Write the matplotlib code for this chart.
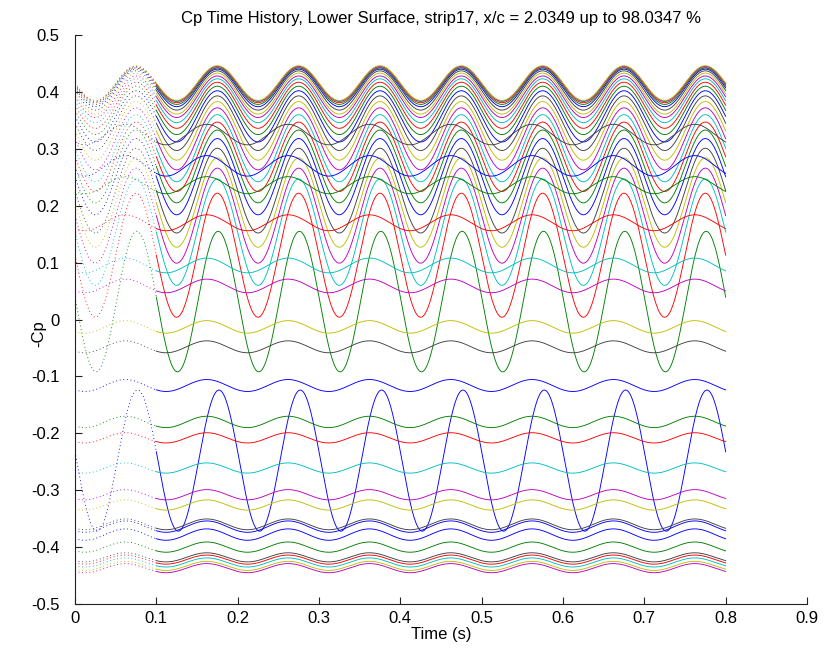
import numpy as np
import matplotlib
matplotlib.use("Agg")
import matplotlib.pyplot as plt

plt.rcParams['font.family'] = ['Liberation Sans', 'DejaVu Sans']

# MATLAB default colour order
matlab_colors = {'b': (0, 0, 1), 'g': (0, 0.5, 0), 'r': (1, 0, 0),
                 'c': (0, 0.75, 0.75), 'm': (0.75, 0, 0.75),
                 'y': (0.75, 0.75, 0), 'k': (0.25, 0.25, 0.25)}

period = 0.1          # s, oscillation period read from the peaks
t_end = 0.8
t_transient = 0.1

# Station 1 (large-amplitude blue)
big_color = ['b']
big_max = [-0.124]
big_min = [-0.372]
big_peak = [0.077]

# Stations with peaks at 0.075 s (bottom -> top)
colors_A = ['g', 'r', 'c', 'm', 'y', 'k', 'b', 'g', 'r', 'c', 'm', 'y', 'k',
            'b', 'g', 'r', 'c', 'm', 'y', 'k', 'b', 'g', 'r', 'c', 'm', 'y']
max_A = [0.155, 0.222, 0.247, 0.266, 0.284, 0.301, 0.318, 0.333, 0.347,
         0.360, 0.372, 0.383, 0.393, 0.402, 0.410, 0.417, 0.423, 0.428,
         0.433, 0.437, 0.440, 0.442, 0.443, 0.444, 0.445, 0.446]
min_A = [-0.092, 0.004, 0.060, 0.099, 0.127, 0.152, 0.184, 0.205, 0.225,
         0.242, 0.263, 0.280, 0.297, 0.312, 0.325, 0.336, 0.346, 0.355,
         0.361, 0.368, 0.374, 0.378, 0.381, 0.383, 0.384, 0.385]
peak_A = [0.076] + [0.075] * 25

# Small-amplitude stations (top -> bottom)
colors_B = ['k', 'b', 'g', 'r', 'c', 'm', 'y', 'k', 'b', 'g', 'r', 'c',
            'm', 'y', 'k', 'b', 'b', 'g', 'k', 'r', 'c', 'y', 'm']
mean_B = [0.325, 0.270, 0.236, 0.170, 0.095, 0.059, -0.013, -0.048,
          -0.116, -0.180, -0.208, -0.261, -0.308, -0.326, -0.360, -0.364,
          -0.378, -0.400, -0.418, -0.422, -0.427, -0.433, -0.437]
amp_B = [0.018, 0.018, 0.015, 0.014, 0.013, 0.012, 0.011, 0.0105, 0.0105,
         0.010, 0.009, 0.009, 0.009, 0.009, 0.0095, 0.010, 0.010, 0.009,
         0.008, 0.008, 0.008, 0.008, 0.008]
peak_B = [0.062] * 23

xticks = [0, 0.1, 0.2, 0.3, 0.4, 0.5, 0.6, 0.7, 0.8, 0.9]
xtick_labels = ['0', '0.1', '0.2', '0.3', '0.4', '0.5', '0.6', '0.7', '0.8', '0.9']
yticks = [-0.5, -0.4, -0.3, -0.2, -0.1, 0, 0.1, 0.2, 0.3, 0.4, 0.5]
ytick_labels = ['-0.5', '-0.4', '-0.3', '-0.2', '-0.1', '0', '0.1', '0.2',
                '0.3', '0.4', '0.5']

# assemble curve table
curve_color = big_color + colors_A + colors_B
curve_mean = ([(a + b) / 2 for a, b in zip(big_max, big_min)] +
              [(a + b) / 2 for a, b in zip(max_A, min_A)] + mean_B)
curve_amp = ([(a - b) / 2 for a, b in zip(big_max, big_min)] +
             [(a - b) / 2 for a, b in zip(max_A, min_A)] + amp_B)
curve_peak = big_peak + peak_A + peak_B

fig = plt.figure(figsize=(8.34, 6.56), dpi=100)
ax = fig.add_axes([75 / 834, 1 - 604 / 656, (807 - 75) / 834, (604 - 35) / 656])

t = np.linspace(0, t_end, 1601)
tr = t <= t_transient + 1e-9
st = t >= t_transient - 1e-9
for c, m, a, p in zip(curve_color, curve_mean, curve_amp, curve_peak):
    y = m + a * np.cos(2 * np.pi * (t - p) / period)
    col = matlab_colors[c]
    ax.plot(t[tr], y[tr], linestyle=(0, (1, 3)), color=col, lw=0.65)
    ax.plot(t[st], y[st], linestyle='-', color=col, lw=0.65)

ax.set_xlim(0, 0.9)
ax.set_ylim(-0.5, 0.5)
ax.set_xticks(xticks)
ax.set_xticklabels(xtick_labels)
ax.set_yticks(yticks)
ax.set_yticklabels(ytick_labels)
ax.spines['top'].set_visible(False)
ax.spines['right'].set_visible(False)
for s in ('left', 'bottom'):
    ax.spines[s].set_linewidth(0.8)
    ax.spines[s].set_color('#222222')
ax.tick_params(direction='in', length=5, width=0.8, labelsize=12,
               colors='#222222', labelcolor='black')
ax.tick_params(axis='x', pad=5)
ax.tick_params(axis='y', pad=11)
ax.set_xlabel('Time (s)', fontsize=12, labelpad=1)
ax.set_ylabel('-Cp', fontsize=12)
ax.yaxis.set_label_coords((46 - 75) / 732, 0.476)
ax.set_title('Cp Time History, Lower Surface, strip17, x/c = 2.0349 up to 98.0347 %',
             fontsize=12, pad=9)

fig.savefig('out.png', dpi=100)
